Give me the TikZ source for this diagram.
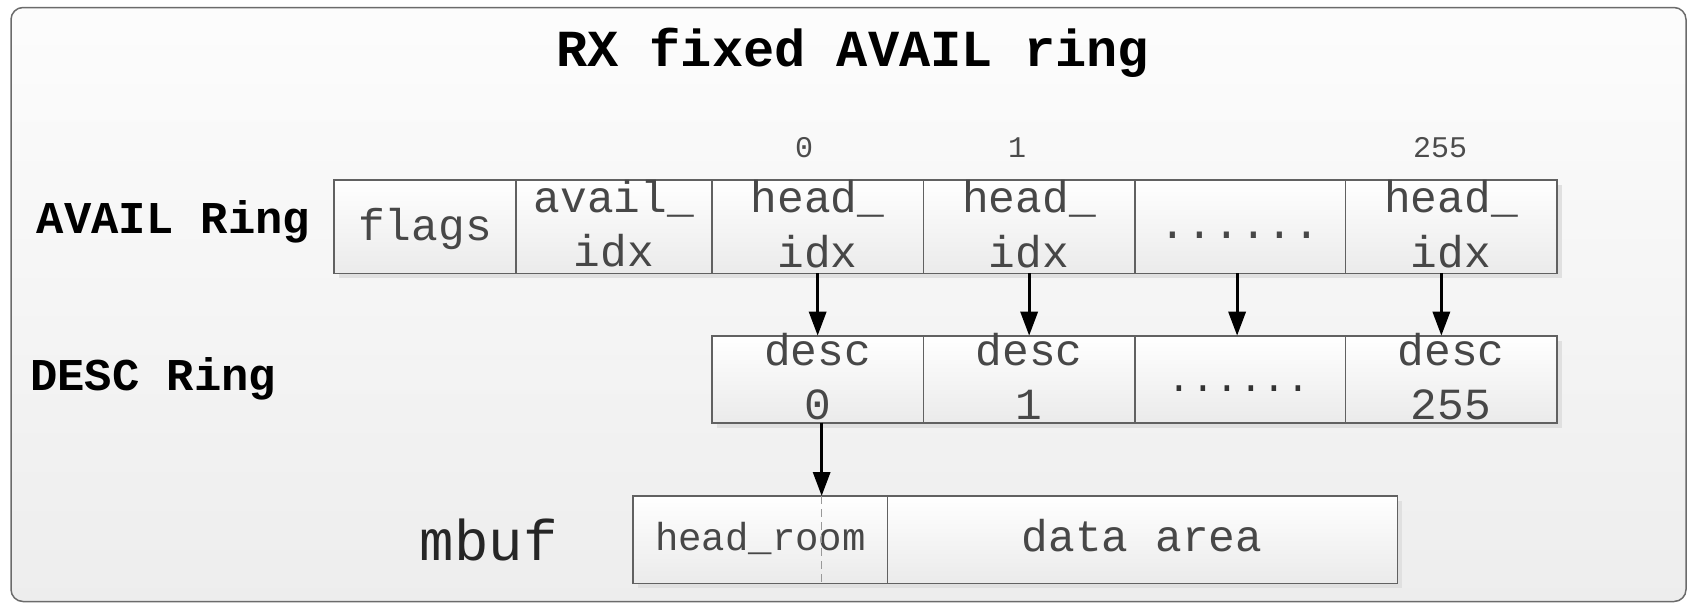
\documentclass[tikz,border=0pt]{standalone}
\usepackage{fontspec}
\newfontfamily\cour{Liberation Mono}
\usetikzlibrary{arrows.meta,shadows}

\tikzset{
  frame/.style={draw=black!58, line width=1.5pt, rounded corners=12pt,
    top color=black!1, bottom color=black!7},
  cell/.style={draw=black!62, line width=1.6pt, top color=white, bottom color=black!8,
    inner sep=0pt, outer sep=0pt, anchor=north west,
    drop shadow={shadow xshift=5pt, shadow yshift=-5pt, fill=black!12, opacity=1}},
  titletext/.style={font=\cour\bfseries\fontsize{52pt}{60pt}\selectfont, anchor=base, inner sep=0pt},
  rowlabel/.style={font=\cour\bfseries\fontsize{45.5pt}{54pt}\selectfont, anchor=base west, inner sep=0pt},
  celltext/.style={font=\cour\fontsize{44.5pt}{54pt}\selectfont, anchor=base, inner sep=0pt, text=black!72},
  smalldots/.style={font=\cour\fontsize{39.5pt}{48pt}\selectfont, anchor=base, inner sep=0pt, text=black!80},
  roomtext/.style={font=\cour\fontsize{39pt}{48pt}\selectfont, anchor=base, inner sep=0pt, text=black!72},
  idxtext/.style={font=\cour\fontsize{30pt}{36pt}\selectfont, anchor=base, inner sep=0pt, text=black!70},
  mbuftext/.style={font=\cour\fontsize{57.4pt}{66pt}\selectfont, anchor=base, inner sep=0pt, text=black!85},
  arr/.style={line width=3.2pt, -{Triangle[length=24pt,width=17pt]}},
  splitline/.style={draw=black!40, line width=1.2pt, dash pattern=on 8pt off 5pt}
}

\begin{document}
\begin{tikzpicture}[x=1pt,y=-1pt]
\useasboundingbox (0,0) rectangle (1688,603);

% outer panel
\path[frame] (11,7.5) rectangle (1686,601.5);

% title
\node[titletext] (title) at (852.5,66.7) {RX fixed AVAIL ring};

% row labels
\node[rowlabel] (lavail) at (36.7,233.3) {AVAIL Ring};
\node[rowlabel] (ldesc) at (30,390) {DESC Ring};
\node[mbuftext] (lmbuf) at (488.7,560) {mbuf};

% slot numbers above the avail ring
\node[idxtext] (i0) at (804,157) {0};
\node[idxtext] (i1) at (1017,157) {1};
\node[idxtext] (i255) at (1440,157) {255};

% AVAIL ring cells
\node[cell, minimum width=182pt, minimum height=93.3pt] (flags) at (334,180) {};
\node[cell, minimum width=195.7pt, minimum height=93.3pt] (aidx) at (516,180) {};
\node[cell, minimum width=211.9pt, minimum height=93.3pt] (h0) at (711.7,180) {};
\node[cell, minimum width=211.1pt, minimum height=93.3pt] (h1) at (923.6,180) {};
\node[cell, minimum width=210.8pt, minimum height=93.3pt] (hd) at (1134.7,180) {};
\node[cell, minimum width=211.7pt, minimum height=93.3pt] (h255) at (1345.5,180) {};

\node[celltext] (tflags) at (425,240) {flags};
\node[celltext] (ta1) at (614,212.7) {avail\_};
\node[celltext] (ta2) at (614,266.7) {idx};
\node[celltext] (th0a) at (817.5,212) {head\_};
\node[celltext] (th0b) at (817.5,267) {idx};
\node[celltext] (th1a) at (1029,212) {head\_};
\node[celltext] (th1b) at (1029,267) {idx};
\node[celltext] (thd) at (1240,238) {......};
\node[celltext] (th2a) at (1451,212) {head\_};
\node[celltext] (th2b) at (1451,267) {idx};

% DESC ring cells
\node[cell, minimum width=211.9pt, minimum height=87pt] (d0) at (711.7,335.7) {};
\node[cell, minimum width=211.1pt, minimum height=87pt] (d1) at (923.6,335.7) {};
\node[cell, minimum width=210.8pt, minimum height=87pt] (dd) at (1134.7,335.7) {};
\node[cell, minimum width=211.7pt, minimum height=87pt] (d255) at (1345.5,335.7) {};

\node[celltext] (td0a) at (817.5,365) {desc};
\node[celltext] (td0b) at (817.5,419.3) {0};
\node[celltext] (td1a) at (1029,365) {desc};
\node[celltext] (td1b) at (1029,419.3) {1};
\node[smalldots] (tdd) at (1239,391) {......};
\node[celltext] (td2a) at (1451,365) {desc};
\node[celltext] (td2b) at (1451,419.3) {255};

% mbuf
\node[cell, minimum width=254.6pt, minimum height=87.3pt] (hr) at (632.7,496) {};
\node[cell, minimum width=510pt, minimum height=87.3pt] (da) at (887.3,496) {};
\node[roomtext] (thr) at (760.5,550) {head\_room};
\node[celltext] (tda) at (1142,551.5) {data area};

% avail entries point at descriptors
\draw[arr] (h0.south) -- (d0.north);
\draw[arr] (h1.south) -- (d1.north);
\draw[arr] ([xshift=-3pt]hd.south) -- ([xshift=-3pt]dd.north);
\draw[arr] ([xshift=-10pt]h255.south) -- ([xshift=-10pt]d255.north);

% descriptor points into the mbuf head room
\coordinate (dx) at ([xshift=4pt]d0.south);
\draw[arr] (dx) -- (dx |- hr.north);
\draw[splitline] (dx |- hr.north) -- (dx |- hr.south);
\end{tikzpicture}
\end{document}
